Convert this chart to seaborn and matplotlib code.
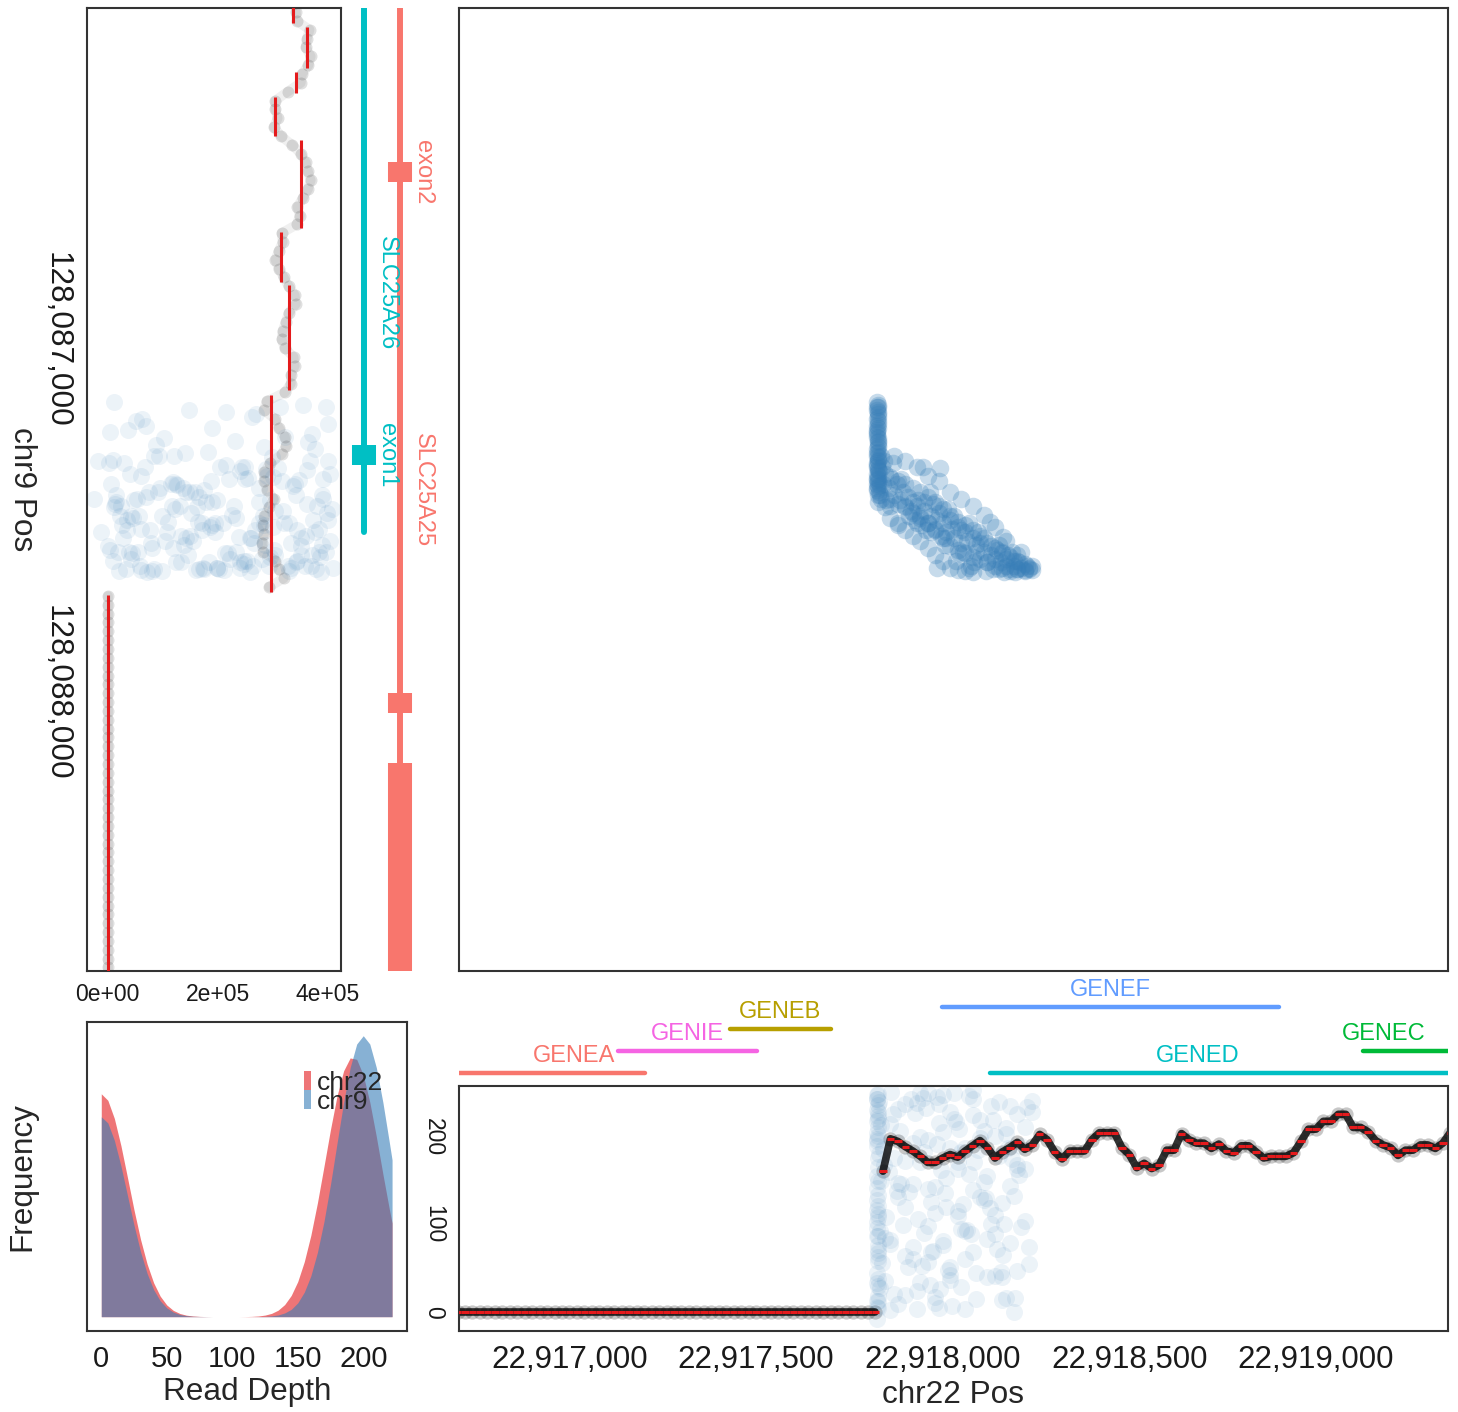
import numpy as np
import pandas as pd
import matplotlib
matplotlib.use("Agg")
import matplotlib.pyplot as plt
import seaborn as sns
from matplotlib.ticker import FuncFormatter, FixedLocator
from matplotlib.patches import Patch

sns.set_style("white")
plt.rcParams["font.family"] = ["Liberation Sans", "DejaVu Sans"]

# ---------------- data ----------------
CHR22_BASE = 22917800
CHR9_BASE = 128087000

# discordant read pairs (offsets from the bases above)
pair_chr22_off = [
    24, 26, 25, 27, 23, 26, 28, 24, 25, 27,
    26, 24, 25, 28, 26, 23, 27, 25, 24, 26,
    28, 25, 27, 24, 26, 27, 25, 23, 28, 26,
    30, 32, 35, 29, 31, 25, 27, 24, 26, 25,
    27, 26, 24,
    45, 55, 62, 70, 78, 85, 95, 100, 108, 115,
    48, 60, 40, 88, 120, 66, 46, 81, 35, 38, 42,
    130, 140, 150, 160, 170, 180, 190, 200, 210, 220,
    230, 240, 250, 260, 270, 280, 290, 300, 135, 155,
    175, 195, 215, 235, 255, 275, 295, 165, 185, 205,
    225, 245, 265, 285, 145, 125, 327, 362, 185, 148, 193,
    310, 320, 330, 340, 350, 360, 370, 380, 390, 400,
    410, 420, 430, 440, 315, 345, 375, 395, 335, 365,
    405, 425, 355, 385,
    26, 25, 27, 24, 26, 25, 27, 26,
    70, 100, 130, 160, 190, 220, 250, 280, 310, 340, 370, 400,
    60, 80, 100, 120, 140, 160, 180, 200, 220, 240, 260, 280,
    110, 130, 150, 170, 190, 210, 230, 250, 270, 290,
    310, 330, 350, 370, 390, 410, 430, 440,
    60, 60, 80, 80, 100, 100, 120, 120, 140, 140,
    160, 160, 180, 180, 200, 200, 220, 220, 240, 240,
    260, 260, 280, 280, 300, 300, 320, 320, 340, 340,
    360, 360, 380, 380, 400, 400, 420, 420,
]
pair_chr9_off = [
    178, 185, 200, 212, 225, 238, 250, 262, 275, 287,
    298, 310, 322, 333, 345, 356, 368, 380, 392, 403,
    415, 425, 192, 245, 305, 340, 360, 398, 280, 220,
    430, 440, 450, 372, 412, 190, 230, 268, 318, 350,
    385, 395, 420,
    380, 420, 395, 440, 410, 455, 430, 470, 445, 485,
    455, 470, 410, 395, 460, 350, 473, 518, 330, 360, 345,
    470, 500, 485, 520, 500, 535, 490, 520, 545, 510,
    560, 530, 575, 545, 645, 560, 600, 575, 455, 540,
    465, 555, 480, 625, 600, 640, 545, 430, 510, 580,
    535, 605, 570, 630, 525, 510, 516, 558, 646, 360, 363,
    600, 630, 585, 620, 650, 605, 640, 655, 625, 650,
    645, 655, 650, 652, 655, 595, 610, 658, 650, 656,
    630, 640, 630, 600,
    205, 255, 290, 330, 365, 410, 440, 460,
    330, 345, 360, 385, 400, 430, 450, 470, 495, 530, 570, 610,
    505, 525, 540, 555, 570, 590, 610, 625, 645, 652, 655, 656,
    500, 520, 460, 545, 470, 560, 500, 540, 520, 580,
    560, 610, 580, 620, 640, 600, 645, 640,
    390, 450, 400, 465, 410, 475, 420, 490, 430, 505,
    445, 520, 460, 540, 480, 560, 500, 585, 515, 595,
    525, 605, 540, 615, 555, 620, 575, 630, 590, 640,
    600, 645, 615, 650, 625, 650, 635, 652,
]
# depth jitter of the reads in the chr22 margin panel
pair_depth_jitter = [
    231, 18, 142, 77, 205, 4, 166, 248, 96, 121,
    58, 190, 243, 30, 112, 218, 71, 155, -8, 237,
    134, 87, 201, 12, 176, 249, 45, 103, 224, 63,
    181, 27, 150, 240, 92, 6, 212, 128, 67, 195,
    38, 229, 117, 84, 160, 252, 20, 138, 207, 99,
    173, 51, 244, 109, 2, 186, 146, 74, 226, 35,
    131, 214, 56, 168, 24, 250, 90, 197, 126, 10,
    238, 81, 153, 42, 221, 115, 183, 60, 247, 140,
    15, 199, 106, 233, 70, 162, 48, 217, 124, 89,
    185, 31, 246, 136, 7, 209, 94, 171, 52, 228,
    119, 65, 192, 245, 26, 149, 83, 236, 111, 178,
    40, 203, 144, 0, 226, 97, 164, 55, 241, 130,
    72, 188, 16, 219, 101, 157, 234, 46, 175,
    12, 198, 87, 243, 150, 33, 221, 109, 176, 64,
    239, 141, 5, 187, 95, 254, 128, 41, 210, 163,
    78, 232, 19, 146, 200, 57, 113, 248, 36, 171,
    92, 225, 137, 3, 183, 69, 216, 120, 250, 28,
    158, 44, 207, 101, 240, 16, 133, 190, 74, 229,
    82, 215, 147, 9, 238, 120, 61, 193, 34, 172,
    250, 98, 143, 17, 206, 76, 229, 51, 164, 110,
    3, 187, 244, 68, 131, 220, 40, 156, 89, 201,
    125, 14, 235, 79, 168, 47, 212, 104,
]
# coverage jitter (thousands) of the reads in the chr9 margin panel
pair_cov_jitter_k = [
    12, 355, 148, 270, 63, 401, 190, 5, 322, 231,
    88, 377, 140, 298, -18, 215, 362, 41, 256, 119,
    336, 175, 397, 70, 284, 9, 205, 348, 102, 263,
    158, 389, -25, 241, 127, 313, 52, 372, 182, 29,
    290, 221, 96, 405, 137, 250, 16, 340, 198, 75,
    381, 167, 305, 48, 229, 116, 392, 275, 2, 163,
    330, 84, 244, 367, 131, 22, 318, 209, 57, 385,
    152, 276, 108, 35, 351, 186, 266, -12, 409, 143,
    233, 78, 296, 172, 14, 360, 122, 254, 39, 327,
    195, 91, 374, 286, 60, 219, 155, 343, 26, 401,
    110, 238, 174, 68, 309, 396, 134, 0, 281, 202,
    45, 358, 99, 247, 166, 333, 20, 379, 212, 81,
    302, 146, 259, 33, 388, 125, 293, 184, 55,
    215, 38, 364, 120, 287, 6, 342, 178, 93, 400,
    250, 61, 317, 149, 392, 24, 226, 300, 105, 371,
    47, 189, 268, 133, 404, 81, 352, 10, 240, 161,
    329, 72, 283, 196, 15, 376, 117, 258, 43, 345,
    171, 390, 28, 305, 139, 222, 58, 384, 199, 264,
    300, 54, 187, 362, 125, 11, 276, 398, 143, 233,
    69, 320, 190, 35, 407, 260, 98, 351, 165, 4,
    284, 213, 77, 386, 150, 42, 333, 241, 118, 370,
    19, 199, 295, 85, 345, 176, 248, 60,
]

# chr9 coverage (thousands), one value every 25 bp from 128,086,050
CHR9_COV_START = 128086050
CHR9_COV_STEP = 25
chr9_cov_k = [
    340, 342, 344, 367, 362, 360, 369, 365, 353, 351,
    327, 305, 305, 309, 302, 315, 335, 351, 360, 364,
    369, 364, 355, 345, 349, 344, 316, 318, 311, 305,
    311, 320, 329, 340, 342, 329, 324, 318, 316, 322,
    338, 340, 333, 333, 322, 289, 284, 304, 311, 322,
    325, 316, 295, 285, 285, 289, 302, 293, 285, 282,
    284, 280, 282, 305, 311, 320, 293,
    0, 0, 0, 0, 0, 0, 0, 0, 0, 0,
    0, 0, 0, 0, 0, 0, 0, 0, 0, 0,
    0, 0, 0, 0, 0, 0, 0, 0, 0, 0,
    0, 0, 0, 0, 0, 0, 0, 0, 0, 0,
    0, 0, 0, 0,
]
# chr9 segment means
chr9_seg_start = [128086030, 128086117, 128086244, 128086315, 128086436,
                  128086697, 128086846, 128087157, 128087722]
chr9_seg_end = [128086105, 128086233, 128086303, 128086425, 128086685,
                128086837, 128087143, 128087714, 128088800]
chr9_seg_mean_k = [336.5, 361.9, 343.2, 304.9, 351.3, 314.5, 330.1, 297.2, 0]

# chr22 read depth, one value every 20 bp from 22,916,700
CHR22_COV_START = 22916700
CHR22_COV_STEP = 20
chr22_depth = [
    0, 0, 0, 0, 0, 0, 0, 0, 0, 0,
    0, 0, 0, 0, 0, 0, 0, 0, 0, 0,
    0, 0, 0, 0, 0, 0, 0, 0, 0, 0,
    0, 0, 0, 0, 0, 0, 0, 0, 0, 0,
    0, 0, 0, 0, 0, 0, 0, 0, 0, 0,
    0, 0, 0, 0, 0, 0, 0,
    161, 198, 195, 189, 184, 178, 171, 171, 176, 180,
    177, 184, 190, 196, 188, 176, 183, 188, 194, 186,
    191, 203, 197, 183, 175, 184, 184, 184, 197, 205,
    205, 205, 188, 180, 165, 170, 164, 168, 185, 185,
    204, 197, 193, 193, 187, 192, 184, 182, 190, 190,
    183, 176, 178, 178, 178, 182, 195, 209, 209, 218,
    218, 226, 226, 211, 211, 206, 196, 191, 188, 179,
    185, 185, 191, 191, 187, 193, 205,
]

# read depth densities
depth_grid = [0, 5, 10, 15, 20, 25, 30, 35, 40, 45, 50, 55, 60, 65, 70, 75, 80,
              85, 90, 95, 100, 105, 110, 115, 120, 125, 130, 135, 140, 145, 150,
              155, 160, 165, 170, 175, 180, 185, 190, 195, 200, 205, 210, 215,
              220, 222]
chr22_density = [222.7, 216.2, 198.0, 170.9, 139.0, 106.6, 77.1, 52.6, 33.8, 20.5,
                 11.7, 6.3, 3.2, 1.5, 0.7, 0.3, 0.1, 0, 0, 0, 0, 0, 0.1, 0.3, 0.7,
                 1.6, 3.3, 6.5, 12.1, 21.2, 35.1, 55.0, 81.3, 113.6, 150.0, 187.1,
                 220.6, 245.6, 258.5, 257.1, 241.5, 214.4, 179.9, 142.5, 106.8, 93.6]
chr9_density = [199.7, 193.6, 176.2, 150.7, 121.1, 91.4, 64.8, 43.2, 27.0, 15.9,
                8.8, 4.6, 2.2, 1.0, 0.4, 0.2, 0.1, 0, 0, 0, 0, 0, 0, 0, 0.1, 0.3,
                0.8, 1.7, 3.7, 7.3, 13.8, 24.5, 40.8, 64.2, 94.9, 132.2, 173.4,
                214.1, 248.8, 272.4, 280.7, 272.4, 248.8, 214.1, 173.4, 156.7]

# chr9 gene models
chr9_gene_names = ["SLC25A26", "SLC25A25"]
chr9_gene_track = [1, 2]
chr9_gene_start = [128085900, 128085900]
chr9_gene_end = [128087544, 128088900]
chr9_gene_label_pos = [128086868, 128087425]
chr9_exon_track = [1, 2, 2, 2]
chr9_exon_gene = ["SLC25A26", "SLC25A25", "SLC25A25", "SLC25A25"]
chr9_exon_start = [128087298, 128086498, 128088000, 128088197]
chr9_exon_end = [128087355, 128086555, 128088056, 128088900]
chr9_exon_label = ["exon1", "exon2", "", ""]

# chr22 genes
chr22_gene_names = ["GENEA", "GENIE", "GENEB", "GENEF", "GENED", "GENEC"]
chr22_gene_start = [22916600, 22917130, 22917430, 22917998, 22918127, 22919126]
chr22_gene_end = [22917203, 22917502, 22917701, 22918901, 22919500, 22919500]
chr22_gene_row = [1, 2, 3, 4, 1, 2]
chr22_gene_label_pos = [22917013, 22917315, 22917564, 22918450, 22918682, 22919182]

gene_colors = {"GENEA": "#F8766D", "GENEB": "#B79F00", "GENEC": "#00BA38",
               "GENED": "#00BFC4", "GENEF": "#619CFF", "GENIE": "#F564E3",
               "SLC25A25": "#F8766D", "SLC25A26": "#00BFC4"}

chr22_ticks = [22917000, 22917500, 22918000, 22918500, 22919000]
chr9_ticks = [128087000, 128088000]
cov_ticks = [0, 200000, 400000]
depth_ticks = [0, 50, 100, 150, 200]
depth_ticks_bottom = [0, 100, 200]

# ---------------- frames ----------------
pairs = pd.DataFrame({
    "chr22": CHR22_BASE + np.array(pair_chr22_off),
    "chr9": CHR9_BASE + np.array(pair_chr9_off),
    "depth_jit": pair_depth_jitter,
    "cov_jit": np.array(pair_cov_jitter_k) * 1000,
})
chr9_cov = pd.DataFrame({
    "pos": CHR9_COV_START + CHR9_COV_STEP * np.arange(len(chr9_cov_k)),
    "cov": np.array(chr9_cov_k) * 1000,
})
chr9_cov["run"] = (chr9_cov["cov"] == 0).astype(int)
chr22_cov = pd.DataFrame({
    "pos": CHR22_COV_START + CHR22_COV_STEP * np.arange(len(chr22_depth)),
    "depth": chr22_depth,
})
chr22_cov["run"] = (chr22_cov["depth"] == 0).astype(int)

BLUE = "#377EB8"
RED = "#E41A1C"
FRAME = "#333333"
TICK = "#666666"

W, H = 1458, 1412
fig = plt.figure(figsize=(W / 100, H / 100), dpi=100)


def rect(l, t, r, b):
    return [l / W, 1 - b / H, (r - l) / W, (b - t) / H]


ax1 = fig.add_axes(rect(87, 7.5, 341, 971))
ax2 = fig.add_axes(rect(345, 7.5, 455, 971))
ax3 = fig.add_axes(rect(459, 7.5, 1448, 971))
ax4 = fig.add_axes(rect(87, 1022, 407, 1331))
ax5 = fig.add_axes(rect(459, 975, 1448, 1085))
ax6 = fig.add_axes(rect(459, 1086, 1448, 1331))

X22 = (22916704, 22919354)
Y9 = (128088785, 128086062)


def frame(ax):
    for s in ax.spines.values():
        s.set_visible(True)
        s.set_color(FRAME)
        s.set_linewidth(1.5)
    ax.tick_params(which="both", direction="out", length=5, width=1.1,
                   color=TICK, labelcolor="#1a1a1a")


# ---- chr9 coverage panel ----
sns.lineplot(data=chr9_cov, x="cov", y="pos", units="run", ax=ax1,
             estimator=None, sort=False, color="black", alpha=0.06, linewidth=7,
             solid_joinstyle="round", solid_capstyle="round", legend=False)
sns.scatterplot(data=chr9_cov, x="cov", y="pos", ax=ax1, s=75, color="black",
                alpha=0.12, linewidth=0, legend=False)
sns.scatterplot(data=pairs, x="cov_jit", y="chr9", ax=ax1, s=150, color=BLUE,
                alpha=0.09, linewidth=0, legend=False)
ax1.vlines(x=np.array(chr9_seg_mean_k) * 1000, ymin=chr9_seg_start,
           ymax=chr9_seg_end, color=RED, lw=2.2, zorder=5)
ax1.set_xlim(-37400, 424100)
ax1.set_ylim(*Y9)
frame(ax1)
ax1.xaxis.set_major_locator(FixedLocator(cov_ticks))
ax1.xaxis.set_major_formatter(FuncFormatter(lambda v, p: f"{v:.0e}"))
ax1.yaxis.set_major_locator(FixedLocator(chr9_ticks))
ax1.yaxis.set_major_formatter(FuncFormatter(lambda v, p: f"{v:,.0f}"))
ax1.tick_params(axis="x", labelsize=16.5, pad=3.5)
ax1.tick_params(axis="y", labelsize=22.7, pad=6)
for lbl in ax1.get_yticklabels():
    lbl.set_rotation(-90)
    lbl.set_va("center")
ax1.set_xlabel("")
ax1.set_ylabel("chr9 Pos", fontsize=22.7, rotation=-90, ha="center", va="center")
ax1.yaxis.set_label_coords(-0.256, 0.5)

# ---- chr9 gene track ----
for name, tr, s, e, lp in zip(chr9_gene_names, chr9_gene_track, chr9_gene_start,
                              chr9_gene_end, chr9_gene_label_pos):
    ax2.plot([tr, tr], [s, e], color=gene_colors[name], lw=4.3,
             solid_capstyle="round")
    ax2.annotate(name, xy=(tr, lp), xytext=(16.6, 0), textcoords="offset points",
                 rotation=-90, ha="center", va="center", fontsize=17,
                 color=gene_colors[name])
for tr, g, s, e, lab in zip(chr9_exon_track, chr9_exon_gene, chr9_exon_start,
                            chr9_exon_end, chr9_exon_label):
    ax2.plot([tr, tr], [s, e], color=gene_colors[g], lw=17.3,
             solid_capstyle="butt")
    if lab:
        ax2.annotate(lab, xy=(tr, (s + e) / 2), xytext=(16.6, 0),
                     textcoords="offset points", rotation=-90, ha="center",
                     va="center", fontsize=17, color=gene_colors[g])
ax2.set_xlim(0.472, 3.528)
ax2.set_ylim(*Y9)
ax2.axis("off")

# ---- main read-pair panel ----
sns.scatterplot(data=pairs, x="chr22", y="chr9", ax=ax3, s=160, color=BLUE,
                alpha=0.28, linewidth=0, legend=False)
ax3.set_xlim(*X22)
ax3.set_ylim(*Y9)
frame(ax3)
ax3.set_xticks([])
ax3.set_yticks([])
ax3.set_xlabel("")
ax3.set_ylabel("")

# ---- density panel ----
ax4.fill_between(depth_grid, 0, chr22_density, color=RED, alpha=0.6, lw=0)
ax4.fill_between(depth_grid, 0, chr9_density, color=BLUE, alpha=0.6, lw=0)
ax4.set_xlim(-10.9, 233.4)
ax4.set_ylim(-14.3, 294.4)
frame(ax4)
ax4.set_xticks(depth_ticks)
ax4.set_yticks([])
ax4.tick_params(axis="x", labelsize=21, pad=5)
ax4.set_xlabel("Read Depth", fontsize=22.7, va="center")
ax4.xaxis.set_label_coords(0.5, -0.197)
ax4.set_ylabel("Frequency", fontsize=22.7, va="center", ha="center")
ax4.yaxis.set_label_coords(-0.203, 0.5)
handles = [Patch(facecolor=RED, alpha=0.6, label="chr22", lw=0),
           Patch(facecolor=BLUE, alpha=0.6, label="chr9", lw=0)]
ax4.legend(handles=handles, loc="upper left", bbox_to_anchor=(0.678, 0.842),
           frameon=False, handlelength=0.25, handleheight=0.72,
           handletextpad=0.25, labelspacing=-0.2, borderpad=0,
           borderaxespad=0, fontsize=19)

# ---- chr22 gene track ----
for name, s, e, row, lp in zip(chr22_gene_names, chr22_gene_start, chr22_gene_end,
                               chr22_gene_row, chr22_gene_label_pos):
    ax5.plot([s, e], [row, row], color=gene_colors[name], lw=3.2,
             solid_capstyle="round")
    ax5.annotate(name, xy=(lp, row), xytext=(0, 7.9), textcoords="offset points",
                 ha="center", va="baseline", fontsize=17, color=gene_colors[name])
ax5.set_xlim(*X22)
ax5.set_ylim(0.441, 5.44)
ax5.axis("off")

# ---- chr22 coverage panel ----
sns.lineplot(data=chr22_cov, x="pos", y="depth", units="run", ax=ax6,
             estimator=None, sort=False, color="black", alpha=0.8, linewidth=5.5,
             solid_joinstyle="round", solid_capstyle="round", legend=False)
sns.scatterplot(data=chr22_cov, x="pos", y="depth", ax=ax6, s=105, color="black",
                alpha=0.22, linewidth=0, legend=False)
sns.scatterplot(data=pairs, x="chr22", y="depth_jit", ax=ax6, s=150, color=BLUE,
                alpha=0.09, linewidth=0, legend=False)
ax6.hlines(y=chr22_cov["depth"], xmin=chr22_cov["pos"] - CHR22_COV_STEP / 2,
           xmax=chr22_cov["pos"] + CHR22_COV_STEP / 2, color=RED, lw=2.2, zorder=5)
ax6.set_xlim(*X22)
ax6.set_ylim(-21.8, 258.4)
frame(ax6)
ax6.xaxis.set_major_locator(FixedLocator(chr22_ticks))
ax6.xaxis.set_major_formatter(FuncFormatter(lambda v, p: f"{v:,.0f}"))
ax6.yaxis.set_major_locator(FixedLocator(depth_ticks_bottom))
ax6.tick_params(axis="x", labelsize=22.5, pad=5.3)
ax6.tick_params(axis="y", labelsize=16.5, pad=5)
for lbl in ax6.get_yticklabels():
    lbl.set_rotation(-90)
    lbl.set_va("center")
ax6.set_ylabel("")
ax6.set_xlabel("chr22 Pos", fontsize=22.7, va="center")
ax6.xaxis.set_label_coords(0.5, -0.261)

fig.savefig("out.png", dpi=100)
